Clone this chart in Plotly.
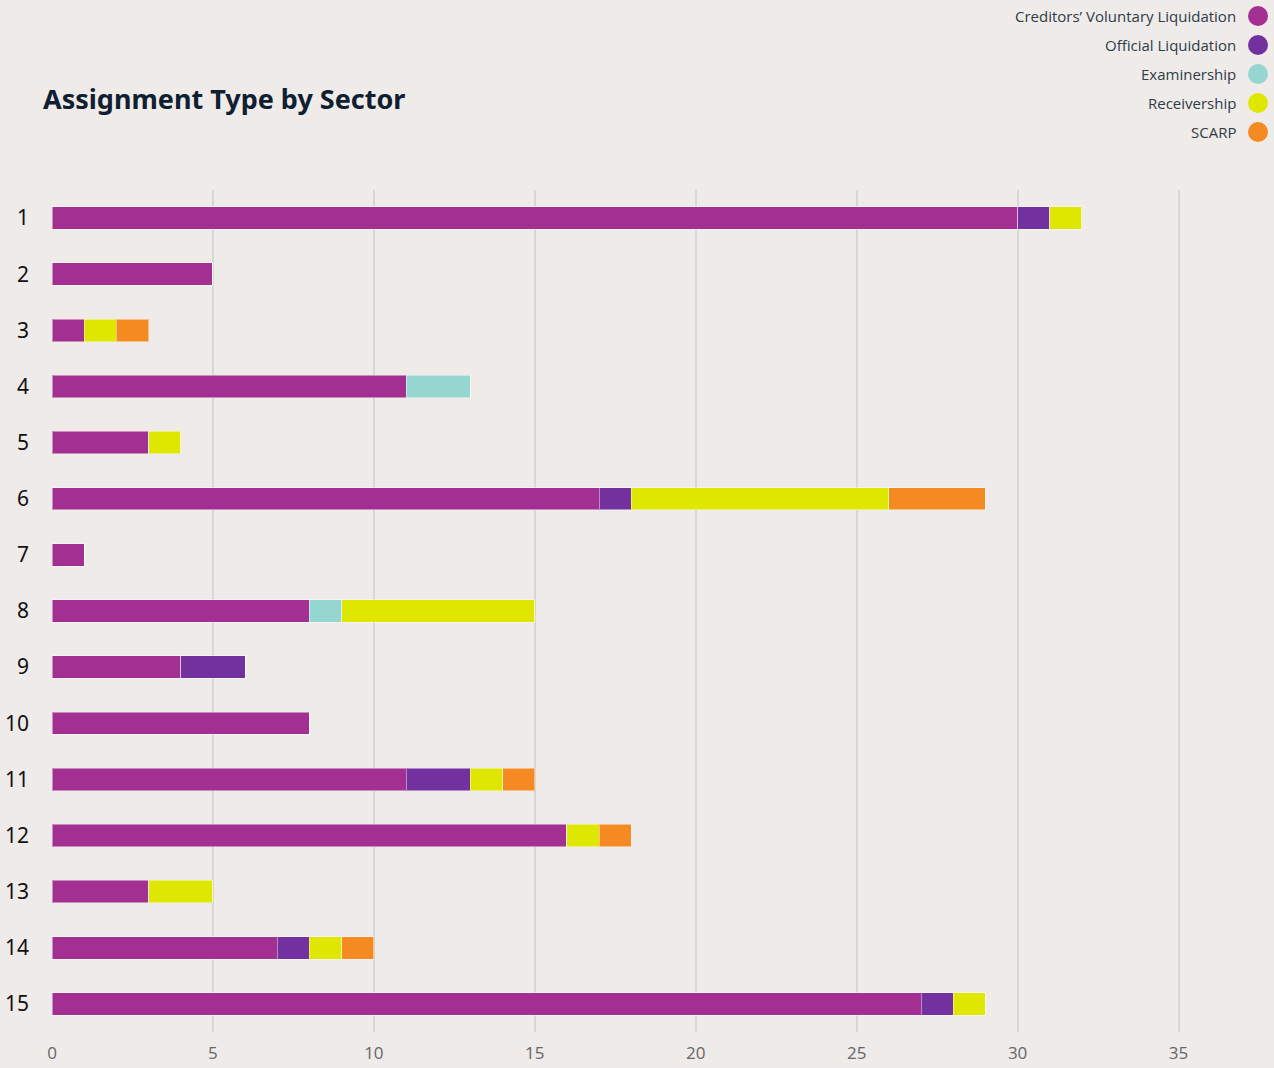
import plotly.graph_objects as go

sectors = [str(i) for i in range(1, 16)]
series_names = ["Creditors’ Voluntary Liquidation", "Official Liquidation",
                "Examinership", "Receivership", "SCARP"]
cvl = [30, 5, 1, 11, 3, 17, 1, 8, 4, 8, 11, 16, 3, 7, 27]
official = [1, 0, 0, 0, 0, 1, 0, 0, 2, 0, 2, 0, 0, 1, 1]
examinership = [0, 0, 0, 2, 0, 0, 0, 1, 0, 0, 0, 0, 0, 0, 0]
receivership = [1, 0, 1, 0, 1, 8, 0, 6, 0, 0, 1, 1, 2, 1, 1]
scarp = [0, 0, 1, 0, 0, 3, 0, 0, 0, 0, 1, 1, 0, 1, 0]
colors = ["#a22f91", "#7331a0", "#95d6d0", "#dfe600", "#f58a22"]
values = [cvl, official, examinership, receivership, scarp]

fig = go.Figure()
for name, vals, col in zip(series_names, values, colors):
    fig.add_trace(go.Bar(
        y=sectors, x=vals, name=name, orientation="h",
        marker=dict(color=col, line=dict(color="rgba(255,255,255,0.45)", width=1)),
        showlegend=False,
    ))

W, H = 1274, 1068
ml, mr, mt, mb = 52, 15, 190, 36
pw, ph = W - ml - mr, H - mt - mb

def px_to_paper(xp, yp):
    return (xp - ml) / pw, 1 - (yp - mt) / ph

# custom legend: text right-aligned, marker to the right
for i, (name, col) in enumerate(zip(series_names, colors)):
    yp = 16 + i * 29
    xa, ya = px_to_paper(1238, yp)
    fig.add_annotation(xref="paper", yref="paper", x=xa, y=ya, text=name,
                       showarrow=False, xanchor="right", yanchor="middle",
                       font=dict(family="Open Sans, Noto Sans, sans-serif", size=15, color="#2e3b48"))
    x0, y0 = px_to_paper(1248, yp - 10)
    x1, y1 = px_to_paper(1268, yp + 10)
    fig.add_shape(type="circle", xref="paper", yref="paper", x0=x0, x1=x1, y0=y1, y1=y0,
                  fillcolor=col, line=dict(width=0))

tx, ty = px_to_paper(41, 98)
fig.add_annotation(xref="paper", yref="paper", x=tx, y=ty, text="<b>Assignment Type by Sector</b>",
                   showarrow=False, xanchor="left", yanchor="middle",
                   font=dict(family="Noto Sans, Open Sans, sans-serif", size=27, color="#0f2033"))

fig.update_layout(
    width=W, height=H, barmode="stack", bargap=0.6,
    paper_bgcolor="#efebe8", plot_bgcolor="#efebe8",
    margin=dict(l=ml, r=mr, t=mt, b=mb, autoexpand=False),
    xaxis=dict(range=[0, 37.5], dtick=5, tick0=0, showgrid=True, gridcolor="#d9d7d5", gridwidth=2,
               zeroline=False, showline=False, ticks="", ticklabelstandoff=9, automargin=False,
               tickfont=dict(family="Open Sans, sans-serif", size=17, color="#666666")),
    yaxis=dict(autorange="reversed", type="category", showgrid=False, zeroline=False,
               showline=False, ticks="", ticklabelstandoff=22, automargin=False,
               tickfont=dict(family="Noto Sans, sans-serif", size=21, color="#111111")),
)

fig.write_html("out.html")
